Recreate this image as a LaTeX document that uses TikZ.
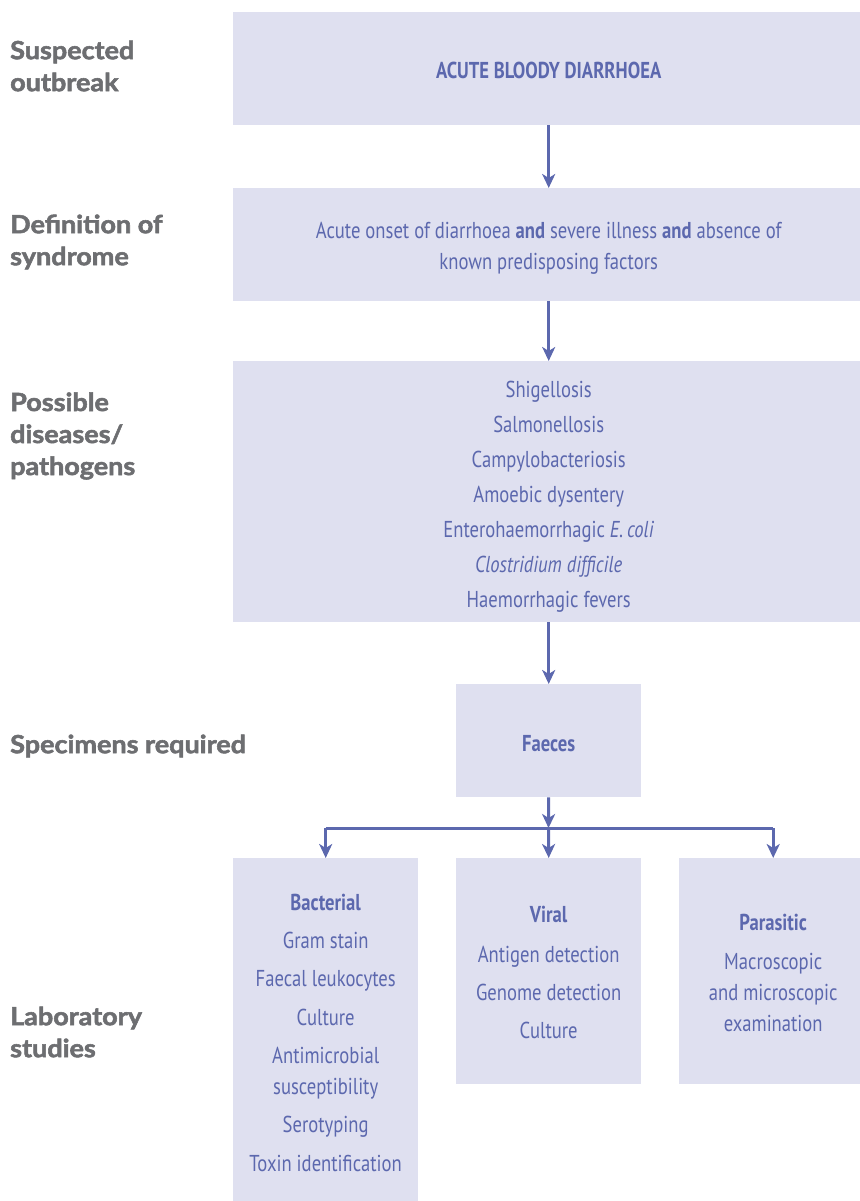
\documentclass[tikz,border=0pt]{standalone}
\usepackage{fontspec}
\usetikzlibrary{arrows.meta}
\newfontfamily\boxfont{PT Sans}[FakeStretch=0.81]
\newfontfamily\labfont{Lato}[FakeStretch=1.08, BoldFeatures={FakeBold=2.2}]
\definecolor{boxfill}{HTML}{DFE0F0}
\definecolor{boxtext}{HTML}{5C68AE}
\definecolor{labgray}{HTML}{6D6E71}
\newcommand\fs[1]{\rule{0pt}{#1pt}}
\newcommand\ls{\rule[-10pt]{0pt}{10pt}}
\begin{document}
\begin{tikzpicture}[x=1pt,y=-1pt,
  box/.style={fill=boxfill, draw=none, inner sep=0pt, anchor=north west, align=center, text=boxtext,
    font=\boxfont\fontsize{23}{31}\selectfont},
  lab/.style={anchor=west, align=left, text=labgray, inner sep=0pt,
    font=\labfont\bfseries\fontsize{25}{32}\selectfont},
  arr/.style={draw=boxtext, line width=3pt, -{Stealth[length=14pt,width=13pt,inset=4pt]}},
  conn/.style={draw=boxtext, line width=3pt}]
\useasboundingbox (0,0) rectangle (859,1201);
% boxes
\node[box, minimum width=631pt, minimum height=113pt] (b1) at (233,12)
  {\fs{29.6}\textbf{ACUTE BLOODY DIARRHOEA}\ls};
\node[box, minimum width=631pt, minimum height=113pt] (b2) at (233,188)
  {\fs{28.6}Acute onset of diarrhoea \textbf{and} severe illness \textbf{and} absence of\\known predisposing factors\ls};
\node[box, minimum width=631pt, minimum height=261pt, font=\boxfont\fontsize{23}{35}\selectfont] (b3) at (233,361)
  {\fs{31.6}Shigellosis\\Salmonellosis\\Campylobacteriosis\\Amoebic dysentery\\Enterohaemorrhagic \textit{E.\,coli}\\\textit{Clostridium difficile}\\Haemorrhagic fevers\ls};
\node[box, minimum width=185pt, minimum height=113pt] (fae) at (456,684)
  {\fs{31}\textbf{Faeces}\ls};
\node[box, minimum width=185pt, minimum height=350pt] (bact) at (233,858)
  {\fs{24.8}\textbf{Bacterial}\\[7.3pt]Gram stain\\[7.3pt]Faecal leukocytes\\[7.3pt]Culture\\[7.3pt]Antimicrobial\\susceptibility\\[7.3pt]Serotyping\\[7.3pt]Toxin identification\ls};
\node[box, minimum width=185pt, minimum height=226pt] (vir) at (456,858)
  {\fs{28.7}\textbf{Viral}\\[8.3pt]Antigen detection\\[7pt]Genome detection\\[7pt]Culture\ls};
\node[box, minimum width=188pt, minimum height=226pt] (para) at (679,858)
  {\fs{29.3}\textbf{Parasitic}\\[8.3pt]Macroscopic\\and microscopic\\examination\ls};
% labels
\node[lab] (l1) at (10,66) {Suspected\\outbreak};
\node[lab] (l2) at (10,242) {Definition of\\syndrome};
\node[lab] (l3) at (10,436) {Possible\\diseases/\\pathogens};
\node[lab] (l4) at (10,746) {Specimens required};
\node[lab] (l5) at (10,1032) {Laboratory\\studies};
% connectors
\draw[arr] (b1) -- (b2);
\draw[arr] (b2) -- (b3);
\draw[arr] (b3.south -| fae.north) -- (fae.north);
\coordinate (junc) at (548.5,828);
\draw[arr] (fae.south) -- (junc);
\draw[conn] (bact.north |- junc) -- (para.north |- junc);
\draw[arr] (bact.north |- junc) -- (bact.north);
\draw[arr] (junc) -- (vir.north);
\draw[arr] (para.north |- junc) -- (para.north);
\end{tikzpicture}
\end{document}
